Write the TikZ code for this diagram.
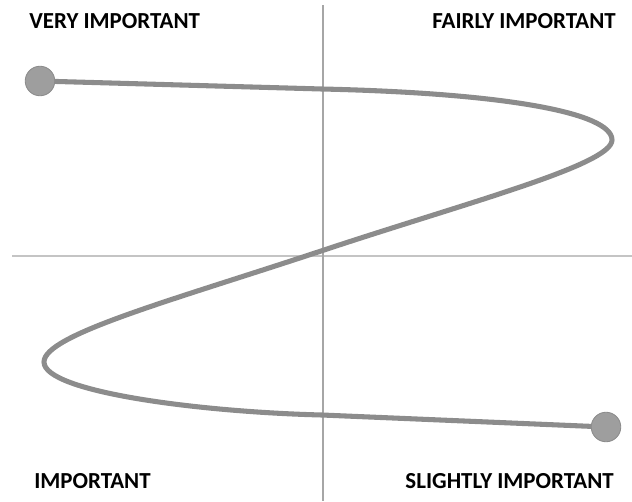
\documentclass[tikz,border=0pt]{standalone}
\usepackage{fontspec}
\setmainfont{Carlito}
\usepackage{tikz}
\usetikzlibrary{positioning}
\definecolor{AxisGray}{HTML}{C4C4C4}
\definecolor{AxisDark}{HTML}{A6A6A6}
\definecolor{CurveGray}{HTML}{8C8C8C}
\definecolor{DotGray}{HTML}{9E9E9E}

\begin{document}
\begin{tikzpicture}[
    x=0.025cm, y=-0.025cm,
    axis/.style={line width=1.1pt},
    curve/.style={draw=CurveGray, line width=3.6pt, line cap=round},
    dot/.style={circle, fill=DotGray, draw=CurveGray, line width=0.6pt, minimum size=21pt, inner sep=0pt},
    label/.style={font=\bfseries\fontsize{16.3}{18}\selectfont, inner sep=0pt, text=black}
]
    \useasboundingbox (0,0) rectangle (632,501);
    % axes
    \coordinate (left) at (12,256);
    \coordinate (right) at (632,256);
    \coordinate (top) at (323,5);
    \coordinate (bottom) at (323,501);
    \draw[axis, AxisGray] (left) -- (right);
    \draw[axis, AxisDark] (top) -- (bottom);
    % the curve
    \coordinate (start) at (40,81);
    \coordinate (finish) at (606,427);
    \draw[curve] (start) -- (322,89)
        .. controls (500,93) and (612,112) .. (612,140)
        .. controls (612,165) and (465,203) .. (318,252)
        .. controls (170,301) and (44,335) .. (44,362)
        .. controls (44,392) and (200,412) .. (322,415)
        -- (finish);
    \node[dot] (startdot) at (start) {};
    \node[dot] (finishdot) at (finish) {};
    % quadrant labels
    \node[label, anchor=west] (veryimp) at (29,21) {VERY IMPORTANT};
    \node[label, anchor=east] (fairlyimp) at (616,21) {FAIRLY IMPORTANT};
    \node[label, anchor=west] (imp) at (34,481) {IMPORTANT};
    \node[label, anchor=east] (slightlyimp) at (614,481) {SLIGHTLY IMPORTANT};
\end{tikzpicture}
\end{document}
